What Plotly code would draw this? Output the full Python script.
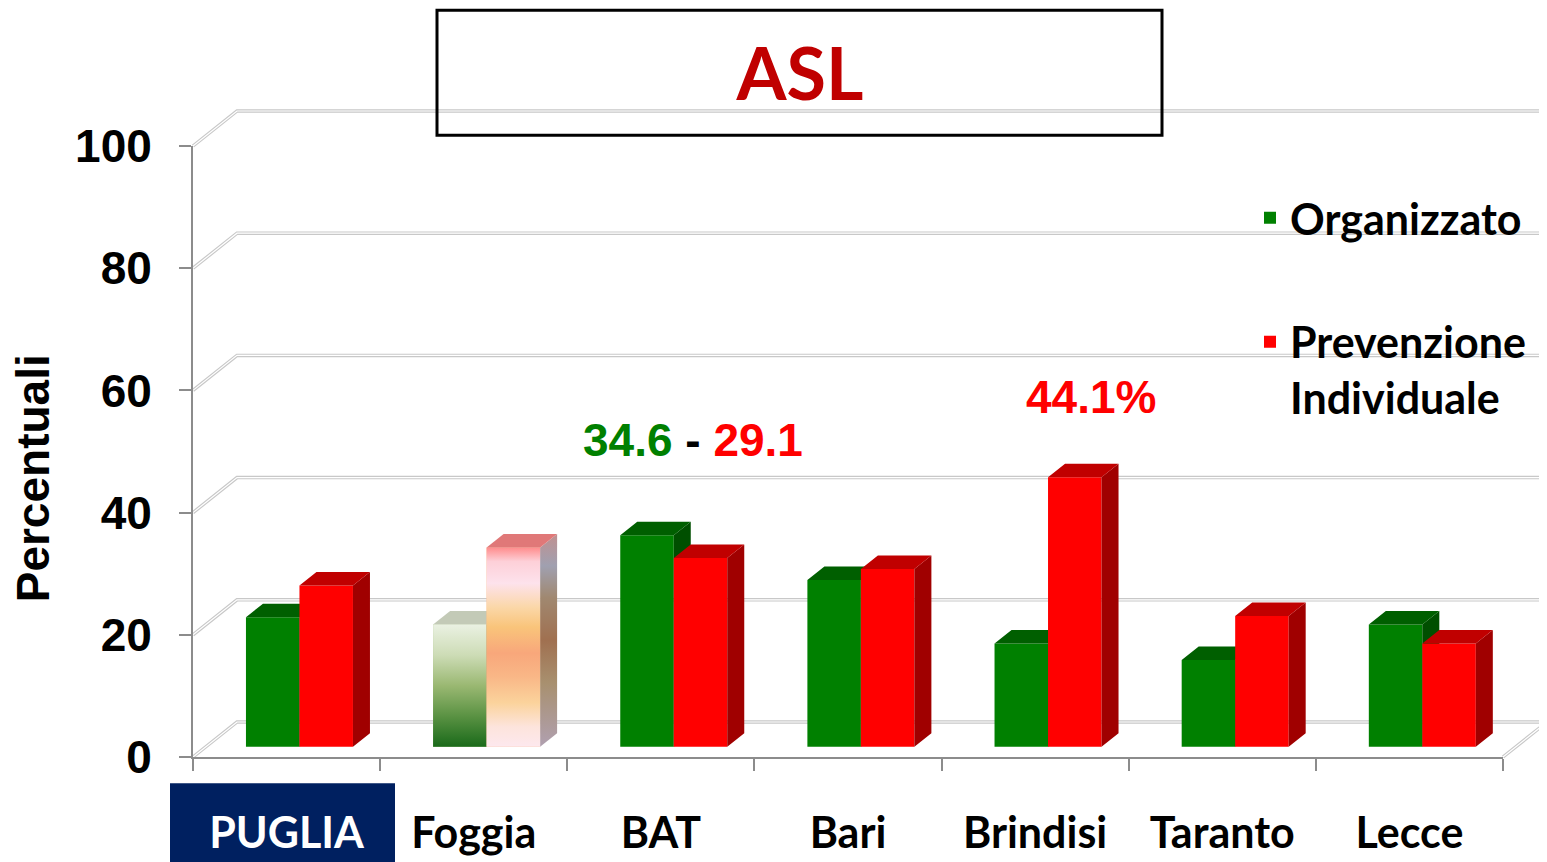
import plotly.graph_objects as go

# ---------------- data ----------------
categories = ["PUGLIA", "Foggia", "BAT", "Bari", "Brindisi", "Taranto", "Lecce"]
organizzato = [21.2, 20.0, 34.6, 27.3, 16.9, 14.2, 20.0]
prevenzione = [26.4, 32.6, 30.9, 29.1, 44.1, 21.4, 16.9]
series_names = ["Organizzato", "Prevenzione<br>Individuale"]
y_ticks = [0, 20, 40, 60, 80, 100]
y_title = "Percentuali"
highlight = "Foggia"

# ---------------- style ----------------
OFF = 8                       # page body margin
W, H = 1547 - OFF, 862 - OFF
ML, MR, MT, MB = 193 - OFF, 44, 145.7 - OFF, 105.3
PLOT_W = W - ML - MR
PLOT_H = H - MT - MB
PX_PER_CAT = PLOT_W / len(categories)
PX_PER_UNIT = PLOT_H / 100.0
Y0, Y1 = 0, 100


def pxx(X):   # screen x -> paper x
    return (X - OFF - ML) / PLOT_W


def pxy(Y):   # screen y -> paper y
    return (H - MB - (Y - OFF)) / PLOT_H


BAR_W = 53.5 / PX_PER_CAT
GREEN_OFF = -0.217
RED_OFF = GREEN_OFF + BAR_W
DX = 17 / PX_PER_CAT          # depth offset (x, data units)
DY = 13.5 / PX_PER_UNIT       # depth offset (y, data units)
BASE_SHIFT = 10.3 / PX_PER_UNIT
WALL_DX, WALL_DY = 44, 35     # back wall offset in pixels

GREEN, GREEN_TOP, GREEN_SIDE = "#008000", "#005f00", "#004f00"
RED, RED_TOP, RED_SIDE = "#ff0000", "#c00000", "#a00000"
GRID = "#c8c8c8"
AXIS = "#8c8c8c"
CAL = "Lato"
ARIAL = "Liberation Sans"

hi = categories.index(highlight)
xs = list(range(len(categories)))


def top_face(xl, v):
    return ([xl, xl + DX, xl + BAR_W + DX, xl + BAR_W, xl],
            [v, v + DY, v + DY, v, v])


def side_face(xl, v):
    xr = xl + BAR_W
    return ([xr, xr + DX, xr + DX, xr, xr],
            [0, DY, v + DY, v, 0])


def front_face(xl, v):
    return ([xl, xl + BAR_W, xl + BAR_W, xl, xl], [0, 0, v, v, 0])


def poly_trace(polys, color, yaxis, gradient=None):
    px, py = [], []
    for a, b in polys:
        px += a + [None]
        py += b + [None]
    kw = dict(x=px, y=py, mode="lines", line=dict(width=0), fill="toself",
              fillcolor=color, hoverinfo="skip", showlegend=False,
              xaxis="x", yaxis=yaxis)
    if gradient is not None:
        kw["fillgradient"] = dict(type="vertical", colorscale=gradient)
    return go.Scatter(**kw)


fig = go.Figure()

# ----- green series (subplot y2) -----
g_colors = [GREEN] * len(categories)
g_colors[hi] = "#9ab872"
fig.add_trace(go.Bar(x=xs, y=organizzato, width=BAR_W, offset=GREEN_OFF,
                     marker=dict(color=g_colors, line=dict(width=0)),
                     name=series_names[0], legendgroup="g",
                     xaxis="x", yaxis="y2"))
fig.add_trace(poly_trace([side_face(i + GREEN_OFF, v) for i, v in zip(xs, organizzato)],
                         GREEN_SIDE, "y2"))
fig.add_trace(poly_trace([top_face(i + GREEN_OFF, v) for i, v in zip(xs, organizzato) if i != hi],
                         GREEN_TOP, "y2"))
fig.add_trace(poly_trace([top_face(hi + GREEN_OFF, organizzato[hi])], "#c3cab7", "y2"))
fig.add_trace(poly_trace([front_face(hi + GREEN_OFF, organizzato[hi])], GREEN, "y2",
                         gradient=[[0, "#1a6a1a"], [0.25, "#5a9243"], [0.5, "#9ab872"],
                                   [0.75, "#cddcb6"], [1, "#eaf1e2"]]))

# ----- red series (subplot y3, drawn above) -----
r_colors = [RED] * len(categories)
r_colors[hi] = "#f9b787"
fig.add_trace(go.Bar(x=xs, y=prevenzione, width=BAR_W, offset=RED_OFF,
                     marker=dict(color=r_colors, line=dict(width=0)),
                     name=series_names[1], legendgroup="r",
                     xaxis="x", yaxis="y3"))
fig.add_trace(poly_trace([side_face(i + RED_OFF, v) for i, v in zip(xs, prevenzione) if i != hi],
                         RED_SIDE, "y3"))
fig.add_trace(poly_trace([top_face(i + RED_OFF, v) for i, v in zip(xs, prevenzione) if i != hi],
                         RED_TOP, "y3"))
fig.add_trace(poly_trace([side_face(hi + RED_OFF, prevenzione[hi])], RED_SIDE, "y3",
                         gradient=[[0, "#b0a0b0"], [0.3, "#a8906f"], [0.5, "#a07050"],
                                   [0.7, "#a08870"], [0.85, "#a0a0b0"], [1, "#c09090"]]))
fig.add_trace(poly_trace([front_face(hi + RED_OFF, prevenzione[hi])], RED, "y3",
                         gradient=[[0, "#fde8ee"], [0.1, "#fde4dc"], [0.22, "#fbd39c"],
                                   [0.35, "#f9b787"], [0.47, "#f8a77b"], [0.6, "#f9c47a"],
                                   [0.7, "#fbd7a8"], [0.82, "#fde2ec"], [0.93, "#fdd0d8"],
                                   [1, "#ff8c8c"]]))
fig.add_trace(poly_trace([top_face(hi + RED_OFF, prevenzione[hi])], "#e07878", "y3"))

# ----- back wall gridlines (3D look) -----
shapes = []
for v in y_ticks:
    path = f"M0,0 L{WALL_DX},{WALL_DY} L{PLOT_W + WALL_DX},{WALL_DY}"
    if v == Y0:
        path += f" M{PLOT_W},0 L{PLOT_W + WALL_DX},{WALL_DY}"
    for col, lw in ((GRID, 3.5), ("white", 1.2)):
        shapes.append(dict(type="path", xref="paper", yref="paper", xsizemode="pixel",
                           ysizemode="pixel", xanchor=0, yanchor=(v - Y0) / (Y1 - Y0),
                           path=path, line=dict(color=col, width=lw), layer="below"))

# title frame
shapes.append(dict(type="rect", xref="paper", yref="paper",
                   x0=pxx(437), x1=pxx(1162), y0=pxy(135), y1=pxy(10),
                   line=dict(color="black", width=3), fillcolor="rgba(0,0,0,0)"))
# PUGLIA label background
shapes.append(dict(type="rect", xref="paper", yref="paper",
                   x0=pxx(170), x1=pxx(395), y0=pxy(862), y1=pxy(783),
                   line=dict(width=0), fillcolor="#002060", layer="below"))

ticktext = [f"<span style='color:white'>{c}</span>" if c == "PUGLIA" else c
            for c in categories]

fig.update_layout(
    width=W, height=H,
    margin=dict(l=ML, r=MR, t=MT, b=MB, autoexpand=False),
    paper_bgcolor="white", plot_bgcolor="rgba(0,0,0,0)",
    barmode="overlay",
    title=dict(text="ASL", x=pxx(800), xref="paper", xanchor="center",
               y=1 - (75 - OFF) / H, yref="container", yanchor="middle",
               font=dict(family=CAL, size=72, color="#c00000", weight="bold")),
    xaxis=dict(range=[-0.5, len(categories) - 0.5], tickvals=xs, ticktext=ticktext,
               ticks="", showgrid=False, zeroline=False, showline=True,
               linecolor=AXIS, linewidth=2, ticklabelstandoff=37,
               tickfont=dict(family=CAL, size=43, color="black", weight="bold"),
               minor=dict(tickvals=[i - 0.5 for i in range(len(categories) + 1)],
                          ticks="outside", ticklen=12, tickcolor=AXIS, tickwidth=2),
               fixedrange=True),
    yaxis=dict(range=[Y0, Y1], tickvals=y_ticks, ticks="outside", ticklen=12,
               tickcolor=AXIS, tickwidth=2, showline=True, linecolor=AXIS, linewidth=2,
               showgrid=False, zeroline=False, ticklabelstandoff=18,
               tickfont=dict(family=ARIAL, size=46, color="black", weight="bold")),
    yaxis2=dict(range=[Y0 - BASE_SHIFT, Y1 - BASE_SHIFT], overlaying="y", visible=False),
    yaxis3=dict(range=[Y0 - BASE_SHIFT, Y1 - BASE_SHIFT], overlaying="y", visible=False),
    legend=dict(x=pxx(1250), xanchor="left", y=pxy(183),
                yanchor="top", traceorder="grouped", tracegroupgap=65, valign="top",
                font=dict(family=CAL, size=43, color="black", weight="bold"),
                bgcolor="rgba(0,0,0,0)"),
    shapes=shapes,
    annotations=[
        dict(xref="paper", yref="paper", x=pxx(33), y=pxy(478), xanchor="center",
             yanchor="middle", textangle=-90, showarrow=False, text=y_title,
             font=dict(family=ARIAL, size=46, color="black", weight="bold")),
        dict(xref="x", yref="y", x=2.17, y=51.9, xanchor="center", yanchor="middle",
             showarrow=False,
             text="<span style='color:#008000'>34.6</span> - "
                  "<span style='color:#ff0000'>29.1</span>",
             font=dict(family=ARIAL, size=46, color="black", weight="bold")),
        dict(xref="x", yref="y", x=4.30, y=58.9, xanchor="center", yanchor="middle",
             showarrow=False, text="44.1%",
             font=dict(family=ARIAL, size=46, color="#ff0000", weight="bold")),
    ],
)

fig.write_html("out.html")
